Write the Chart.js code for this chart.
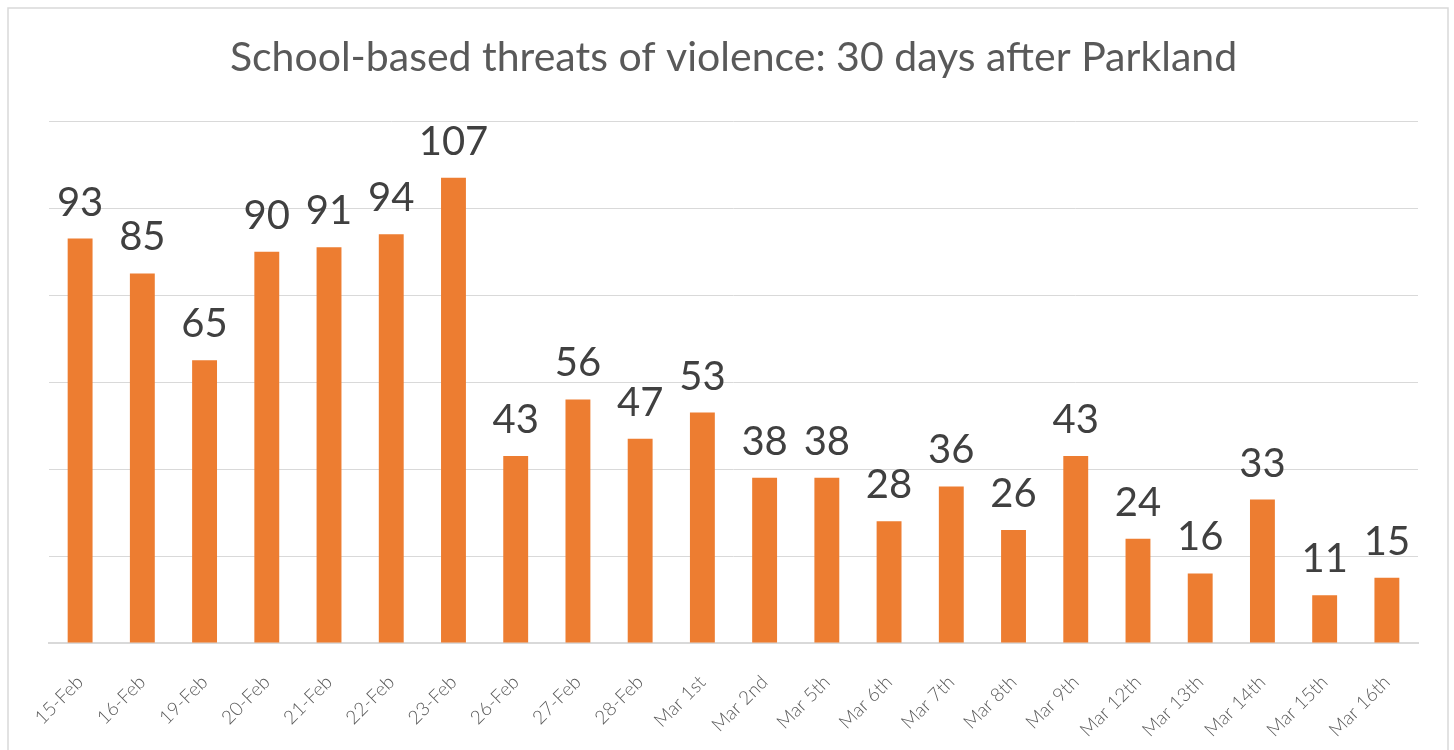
<!DOCTYPE html>
<html>
<head>
<meta charset="utf-8">
<script src="https://cdn.jsdelivr.net/npm/chart.js@4.4.1/dist/chart.umd.min.js"></script>
<style>
  body { margin: 0; background: #fff; }
  canvas { display: block; }
</style>
</head>
<body>
<canvas id="chart" width="1454" height="750"></canvas>
<script>
// Data
const chartTitle = 'School-based threats of violence: 30 days after Parkland';
const days = ['15-Feb', '16-Feb', '19-Feb', '20-Feb', '21-Feb', '22-Feb', '23-Feb', '26-Feb', '27-Feb', '28-Feb',
    'Mar 1st', 'Mar 2nd', 'Mar 5th', 'Mar 6th', 'Mar 7th', 'Mar 8th', 'Mar 9th', 'Mar 12th', 'Mar 13th',
    'Mar 14th', 'Mar 15th', 'Mar 16th'];
const threats = [93, 85, 65, 90, 91, 94, 107, 43, 56, 47, 53, 38, 38, 28, 36, 26, 43, 24, 16, 33, 11, 15];
const yMin = 0, yMax = 120, yStep = 20;

const FONT = 'Lato, "Noto Sans", sans-serif';

// white background + thin frame round the chart
const framePlugin = {
    id: 'frame',
    beforeDraw(chart) {
        const ctx = chart.ctx;
        ctx.save();
        ctx.fillStyle = '#fff';
        ctx.fillRect(0, 0, chart.width, chart.height);
        ctx.strokeStyle = '#d9d9d9';
        ctx.lineWidth = 1.5;
        ctx.strokeRect(8, 8, 1440, 760);
        ctx.restore();
    }
};

// value labels above each bar
const valueLabels = {
    id: 'valueLabels',
    afterDatasetsDraw(chart) {
        const ctx = chart.ctx;
        const meta = chart.getDatasetMeta(0);
        ctx.save();
        ctx.font = '40px ' + FONT;
        ctx.fillStyle = '#404040';
        ctx.textAlign = 'center';
        ctx.textBaseline = 'alphabetic';
        meta.data.forEach((bar, i) => {
            ctx.fillText(String(threats[i]), bar.x, bar.y - 23);
        });
        ctx.restore();
    }
};

new Chart(document.getElementById('chart'), {
    type: 'bar',
    data: {
        labels: days,
        datasets: [{
            data: threats,
            backgroundColor: '#ED7D31',
            barPercentage: 0.4,
            categoryPercentage: 1.0
        }]
    },
    options: {
        responsive: false,
        animation: false,
        layout: { padding: { left: 49, right: 36, top: 0, bottom: 0 } },
        plugins: {
            legend: { display: false },
            tooltip: { enabled: false },
            title: {
                display: true,
                text: chartTitle,
                color: '#595959',
                font: { family: FONT, size: 41, weight: 'normal' },
                padding: { top: 33, bottom: 39 }
            }
        },
        scales: {
            x: {
                grid: { display: false },
                border: { display: true, color: '#d9d9d9', width: 2 },
                ticks: {
                    color: '#595959',
                    font: { family: FONT, size: 19, weight: 300 },
                    maxRotation: 45,
                    minRotation: 45,
                    padding: 20,
                    autoSkip: false
                },
                afterFit: scale => { scale.height = 107; }
            },
            y: {
                min: yMin,
                max: yMax,
                ticks: { stepSize: yStep, display: false },
                grid: { color: '#d9d9d9', lineWidth: 1, drawTicks: false },
                border: { display: false },
                afterFit: scale => { scale.width = 0; }
            }
        }
    },
    plugins: [framePlugin, valueLabels]
});
</script>
</body>
</html>
